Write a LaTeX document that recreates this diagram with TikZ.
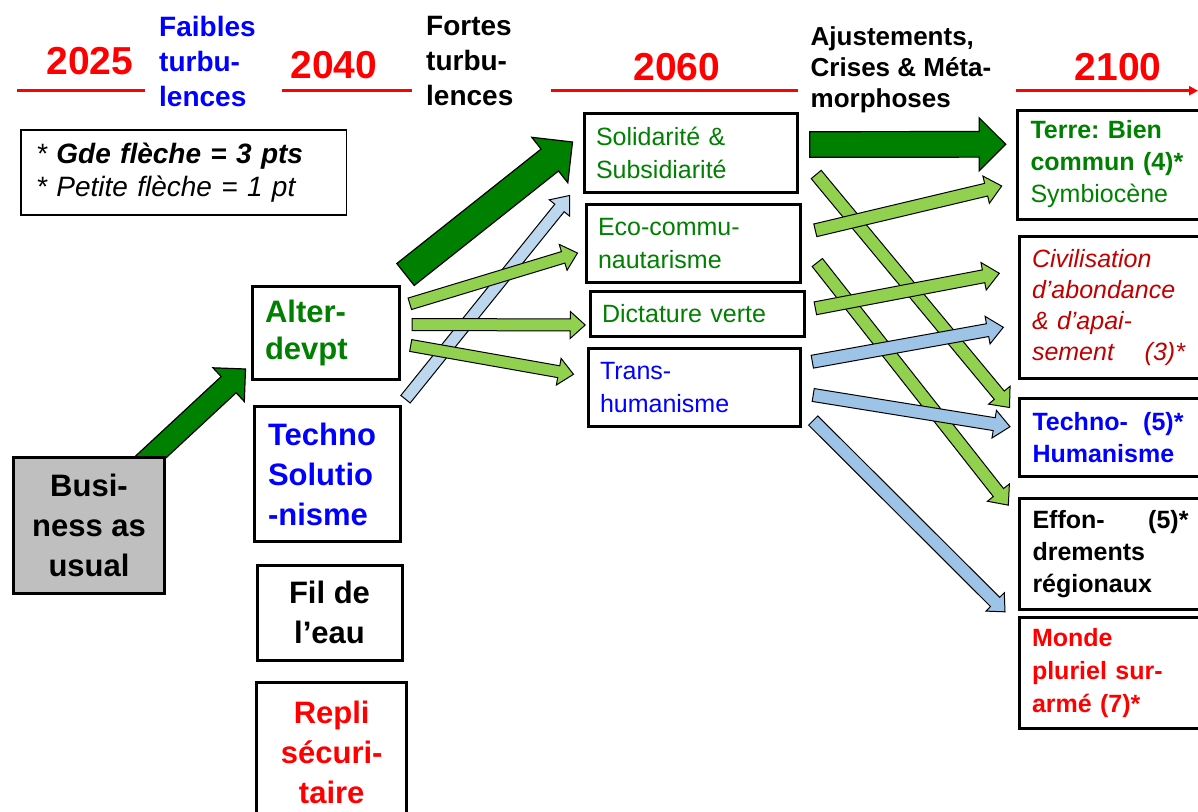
\documentclass[tikz,border=0pt]{standalone}
\usepackage{fontspec}
\setmainfont{Liberation Sans}
\usetikzlibrary{arrows.meta,calc,backgrounds}
\frenchspacing

\definecolor{vertfonce}{RGB}{0,128,0}
\definecolor{vertclair}{RGB}{146,208,80}
\definecolor{bleuclair}{RGB}{157,195,230}
\definecolor{bleupale}{RGB}{189,215,238}
\definecolor{rougefonce}{RGB}{192,0,0}
\definecolor{grisbau}{RGB}{191,191,191}

% block arrow: style, from, to, shaft half width, head half width, head length
\newcommand\fleche[6]{%
\coordinate (fa) at #2;
\coordinate (fb) at #3;
\coordinate (fc) at ($(fb)!#6!(fa)$);
\draw[#1] ($(fa)!#4!90:(fb)$) -- ($(fc)!#4!90:(fb)$) -- ($(fc)!#5!90:(fb)$) -- (fb)
  -- ($(fc)!#5!-90:(fb)$) -- ($(fc)!#4!-90:(fb)$) -- ($(fa)!#4!-90:(fb)$) -- cycle;
}

\begin{document}
\begin{tikzpicture}[x=1pt,y=-1pt,
boite/.style={
draw,
line width=3pt,
fill=white,
inner ysep=0pt
},
gauche/.style={boite,font=\fontsize{31}{40}\selectfont\bfseries},
milieu/.style={boite,inner xsep=12pt,align=left,font=\fontsize{25}{33}\selectfont},
droite/.style={boite,anchor=west,inner xsep=13pt,text width=190pt,align=left,font=\fontsize{25}{32}\selectfont},
titre/.style={anchor=north west,inner sep=0pt,align=left,font=\fontsize{28}{35}\selectfont\bfseries},
annee/.style={text=red,inner sep=0pt,font=\fontsize{39}{40}\selectfont\bfseries},
ligne/.style={red,line width=3pt},
grande/.style={fill=vertfonce,draw=black,line width=1.2pt},
petitev/.style={fill=vertclair,draw=black,line width=1pt},
petiteb/.style={fill=bleuclair,draw=black,line width=1pt},
petitep/.style={fill=bleupale,draw=black,line width=1pt}]

\useasboundingbox (0,0) rectangle (1198,811);
\clip (0,0) rectangle (1198,811);

% time line
\node (a2025) [annee] at (90,61) {2025};
\node (a2040) [annee] at (334,65) {2040};
\node (a2060) [annee] at (677,67) {2060};
\node (a2100) [annee] at (1118,67) {2100};
\draw[ligne] (17,90.7) -- (145,90.7);
\draw[ligne] (282,90.7) -- (412,90.7);
\draw[ligne] (551,90.7) -- (797.6,90.7);
\draw[ligne,-{Triangle[length=9pt,width=9pt]}] (1015.6,90.7) -- (1198,90.7);
\node (faibles) [titre,text=blue] at (159,16.5) {Faibles\\turbu-\\lences};
\node (fortes) [titre] at (426,16.5) {Fortes\\turbu-\\lences};
\node (ajust) [titre,font=\fontsize{26}{31}\selectfont\bfseries] at (810.5,26) {Ajustements,\\Crises \& Méta-\\morphoses};

\node (legende) [draw,line width=1.3pt,minimum width=325.4pt,minimum height=85pt,text width=295pt,inner xsep=15pt,align=left,font=\fontsize{28}{33}\selectfont\itshape] at (183.7,172.5) {* \textbf{Gde flèche = 3 pts}\\{}* Petite flèche = 1 pt};

% 2025 - 2040
\node (bau) [gauche,fill=grisbau,minimum width=151pt,minimum height=135.5pt,align=center] at (89,525.3) {Busi-\\ness as\\usual};
\node (alter) [gauche,text=vertfonce,minimum height=93pt,text width=121pt,inner xsep=13pt,align=left,font=\fontsize{31}{37}\selectfont\bfseries] at (325.5,332.5) {Alter-\\devpt};
\node (techno) [gauche,text=blue,minimum height=135pt,text width=118pt,inner xsep=14pt,align=left] at (327,474.2) {Techno\\Solutio\\-nisme};
\node (fil) [gauche,minimum width=145pt,minimum height=95pt,align=center] at (329.5,612.5) {Fil de\\l’eau};
\node (repli) [gauche,text=red,minimum width=149.5pt,minimum height=140pt,align=center] at (331.7,752.7) {Repli\\sécuri-\\taire};

% 2060
\node (sol) [milieu,text=vertfonce,minimum height=79pt,text width=189.6pt] at (690.8,152.5) {Solidarité \&\\Subsidiarité};
\node (eco) [milieu,text=vertfonce,minimum height=77.7pt,text width=190pt] at (693,243.8) {Eco-commu-\\nautarisme};
\node (dict) [milieu,text=vertfonce,minimum height=45pt,text width=190.5pt] at (697.3,313.5) {Dictature verte};
\node (trans) [milieu,text=blue,minimum height=78.4pt,text width=188pt] at (694,387.5) {Trans-\\humanisme};

% 2100
\node (terre) [droite,text=vertfonce,minimum height=109pt] at (1016,164.5) {\textbf{Terre: Bien}\\\textbf{commun (4)*}\\Symbiocène};
\node (civ) [droite,text=rougefonce,minimum height=142.3pt,font=\fontsize{25}{31}\selectfont\itshape] at (1017.5,307.8) {Civilisation\\d’abondance\\\& d’apai-\\\makebox[153pt][l]{sement\hfill(3)*}};
\node (th) [droite,text=blue,minimum height=78.4pt,font=\fontsize{25}{32}\selectfont\bfseries] at (1018,437.5) {\makebox[151pt][l]{Techno-\hfill(5)*}\\Humanisme};
\node (eff) [droite,minimum height=110.5pt,font=\fontsize{25}{32}\selectfont\bfseries] at (1018,554.2) {\makebox[156pt][l]{Effon-\hfill(5)*}\\drements\\régionaux};
\node (monde) [droite,text=red,minimum height=110.8pt,font=\fontsize{25}{33}\selectfont\bfseries] at (1017.5,672.9) {Monde\\pluriel sur-\\armé (7)*};

% arrows
\begin{pgfonlayer}{background}
\fleche{grande}{($(bau.north east)+(-25,10)$)}{($(alter.west)+(-5,36.5)$)}{11pt}{23pt}{23pt}
\end{pgfonlayer}
\fleche{grande}{($(alter.north east)+(5,-10)$)}{($(sol.west)+(-10,-10.5)$)}{14pt}{29pt}{29pt}
\fleche{petitep}{($(techno.north east)+(4,-6)$)}{($(sol.south west)+(-13,2)$)}{6pt}{13pt}{16pt}
\fleche{petitev}{($(alter.east)+(9.3,-28.7)$)}{($(eco.west)+(-7,9.2)$)}{6pt}{13.5pt}{15pt}
\fleche{petitev}{($(alter.east)+(11.7,-8)$)}{($(dict.west)+(-3.3,11.5)$)}{6pt}{13.5pt}{15pt}
\fleche{petitev}{($(alter.east)+(10.2,13)$)}{($(trans.west)+(-13,-13.2)$)}{6pt}{13.5pt}{15pt}

\fleche{grande}{($(sol.east)+(10.7,-8)$)}{($(terre.west)+(-10.3,-20.2)$)}{12.8pt}{26.5pt}{26.5pt}
\fleche{petitev}{($(sol.east)+(17.1,22)$)}{($(th.north west)+(-8.5,10.7)$)}{6.5pt}{14pt}{16pt}
\fleche{petitev}{($(eco.east)+(15.8,18.7)$)}{($(eff.north west)+(-9.7,7.7)$)}{6.5pt}{14pt}{16pt}
\fleche{petiteb}{($(trans.east)+(11.7,33)$)}{($(monde.north west)+(-12.5,-4.2)$)}{6.5pt}{13pt}{14pt}
\fleche{petitev}{($(eco.east)+(13.8,-13.5)$)}{($(terre.west)+(-14.3,21.5)$)}{6.5pt}{14pt}{16pt}
\fleche{petitev}{($(dict.east)+(9.3,-5.2)$)}{($(civ.west)+(-18.2,-34.5)$)}{6.5pt}{14pt}{16pt}
\fleche{petiteb}{($(trans.east)+(10.8,-25.8)$)}{($(civ.west)+(-14.2,19.5)$)}{6.5pt}{14pt}{16pt}
\fleche{petiteb}{($(trans.east)+(11.7,7.5)$)}{($(th.west)+(-8,-10.8)$)}{6.5pt}{14pt}{16pt}
\end{tikzpicture}
\end{document}
